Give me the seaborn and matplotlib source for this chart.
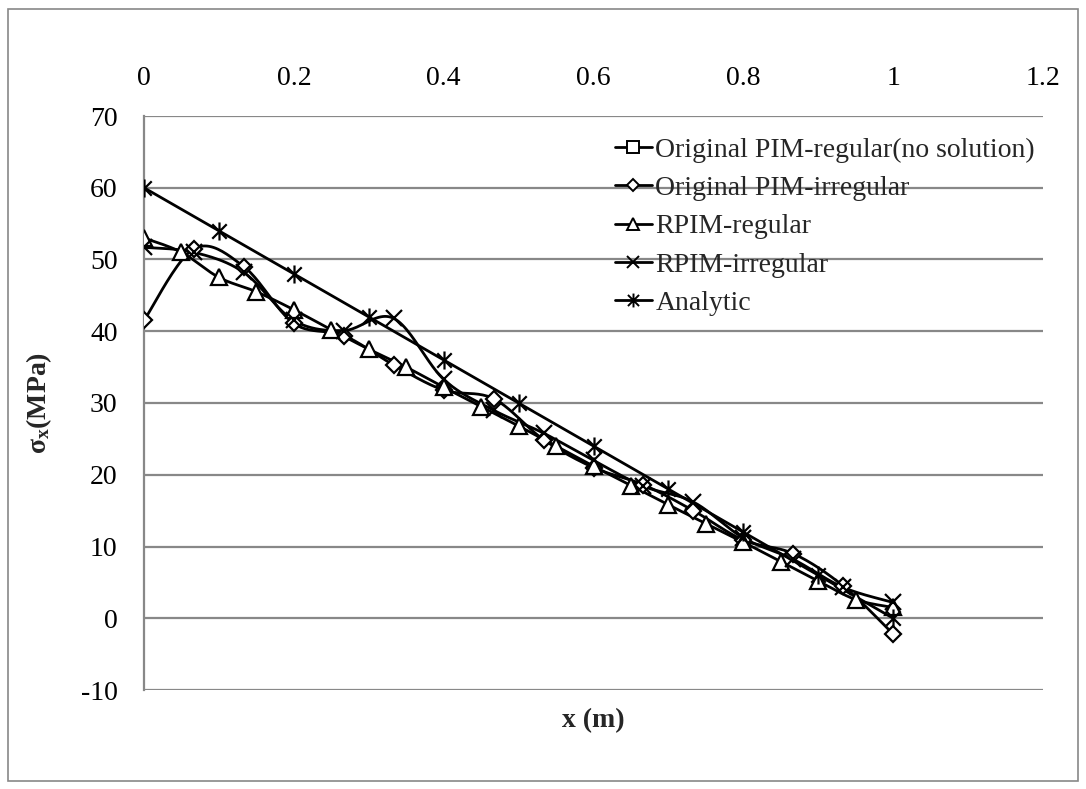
import numpy as np
import pandas as pd
import matplotlib
matplotlib.use("Agg")
import matplotlib.pyplot as plt
from matplotlib.patches import Rectangle
from matplotlib.lines import Line2D
from matplotlib.path import Path
import seaborn as sns

# ---------------- data ----------------
x_regular = [0.0, 0.05, 0.10, 0.15, 0.20, 0.25, 0.30, 0.35, 0.40, 0.45, 0.50,
             0.55, 0.60, 0.65, 0.70, 0.75, 0.80, 0.85, 0.90, 0.95, 1.00]
rpim_regular = [53.0, 51.0, 47.5, 45.5, 43.0, 40.2, 37.5, 35.0, 32.2, 29.5, 26.8,
                24.0, 21.2, 18.5, 15.8, 13.2, 10.6, 7.9, 5.2, 2.6, 1.5]

x_irregular = [0.0, 0.0667, 0.1333, 0.2, 0.2667, 0.3333, 0.4, 0.4667, 0.5333,
               0.6, 0.6667, 0.7333, 0.8, 0.8667, 0.9333, 1.0]
pim_irregular = [41.5, 51.5, 49.0, 41.1, 39.4, 35.3, 31.8, 30.6, 24.9,
                 21.0, 18.6, 15.0, 10.9, 9.0, 4.5, -2.2]
rpim_irregular = [51.7, 51.0, 48.2, 41.5, 40.1, 41.8, 33.3, 29.0, 25.8,
                  22.0, 18.4, 16.2, 11.2, 8.2, 4.3, 2.2]

x_analytic = [0.0, 0.1, 0.2, 0.3, 0.4, 0.5, 0.6, 0.7, 0.8, 0.9, 1.0]
analytic = [60, 54, 48, 42, 36, 30, 24, 18, 12, 6, 0]

labels = ["Original PIM-regular(no solution)", "Original PIM-irregular",
          "RPIM-regular", "RPIM-irregular", "Analytic"]
x_ticks = [0, 0.2, 0.4, 0.6, 0.8, 1, 1.2]
x_tick_labels = ["0", "0.2", "0.4", "0.6", "0.8", "1", "1.2"]
y_ticks = [-10, 0, 10, 20, 30, 40, 50, 60, 70]

# ---------------- style ----------------
sns.set_theme(style="white")
plt.rcParams["font.family"] = ["Liberation Serif", "DejaVu Serif"]
plt.rcParams["mathtext.fontset"] = "custom"
plt.rcParams["mathtext.rm"] = "Liberation Serif"
plt.rcParams["mathtext.bf"] = "Liberation Serif:bold"
plt.rcParams["mathtext.it"] = "Liberation Serif:italic"
plt.rcParams["axes.unicode_minus"] = False

FS = 20
GRID = "#888888"

fig = plt.figure(figsize=(10.86, 7.89), dpi=100)
ax = fig.add_axes([144 / 1086, 1 - 690 / 789, (1043 - 144) / 1086, (690 - 116) / 789])


def smooth(xs, ys, n=24):
    """Excel-like smoothed line (Bezier / Catmull-Rom) through the points."""
    pts = np.column_stack([xs, ys]).astype(float)
    P = np.vstack([pts[0], pts, pts[-1]])
    segs = []
    t = np.linspace(0, 1, n)[:, None]
    for i in range(1, len(P) - 2):
        p0, p1, p2, p3 = P[i - 1], P[i], P[i + 1], P[i + 2]
        c1 = p1 + (p2 - p0) / 6
        c2 = p2 - (p3 - p1) / 6
        seg = (1 - t) ** 3 * p1 + 3 * (1 - t) ** 2 * t * c1 + 3 * (1 - t) * t ** 2 * c2 + t ** 3 * p2
        segs.append(seg if i == 1 else seg[1:])
    c = np.vstack(segs)
    return c[:, 0], c[:, 1]


# Excel-style asterisk: an X with a vertical stroke
asterisk = Path([(-1, -1), (1, 1), (-1, 1), (1, -1), (0, -1.25), (0, 1.25)],
                [Path.MOVETO, Path.LINETO, Path.MOVETO, Path.LINETO,
                 Path.MOVETO, Path.LINETO])

LW = 2.0
series = [
    (labels[1], x_irregular, pim_irregular, "D", 8, "white"),
    (labels[2], x_regular, rpim_regular, "^", 11, "white"),
    (labels[3], x_irregular, rpim_irregular, "x", 11, "black"),
    (labels[4], x_analytic, analytic, asterisk, 13, "black"),
]

for name, xs, ys, mk, ms, fc in series:
    sx, sy = smooth(xs, ys)
    sns.lineplot(x=sx, y=sy, ax=ax, color="black", lw=LW, sort=False,
                 estimator=None, zorder=3)
    df = pd.DataFrame({"x": xs, "y": ys})
    ax.plot(df["x"], df["y"], linestyle="none", marker=mk, markersize=ms,
            markerfacecolor=fc, markeredgecolor="black", markeredgewidth=1.6,
            zorder=4)

# axes
ax.set_xlim(0, 1.2)
ax.set_ylim(-10, 70)
ax.set_xticks(x_ticks)
ax.set_xticklabels(x_tick_labels)
ax.set_yticks(y_ticks)
ax.xaxis.tick_top()
ax.xaxis.set_label_position("bottom")
ax.tick_params(axis="x", length=0, pad=18, labelsize=FS, colors="black")
ax.tick_params(axis="y", length=0, pad=19, labelsize=FS, colors="black")
ax.yaxis.grid(True, color=GRID, lw=1.6)
ax.set_axisbelow(True)
for s in ["top", "right", "bottom"]:
    ax.spines[s].set_visible(False)
ax.spines["left"].set_color(GRID)
ax.spines["left"].set_linewidth(1.6)

ax.set_xlabel("x (m)", fontsize=FS, fontweight="bold", labelpad=13)
ax.set_ylabel(r"$\mathbf{σ_{x}}$(MPa)", fontsize=FS, fontweight="bold", labelpad=19)

# legend
handles = [
    Line2D([], [], color="black", lw=LW, marker="s", markersize=9,
           markerfacecolor="white", markeredgecolor="black", markeredgewidth=1.4),
    Line2D([], [], color="black", lw=LW, marker="D", markersize=6,
           markerfacecolor="white", markeredgecolor="black", markeredgewidth=1.4),
    Line2D([], [], color="black", lw=LW, marker="^", markersize=8,
           markerfacecolor="white", markeredgecolor="black", markeredgewidth=1.4),
    Line2D([], [], color="black", lw=LW, marker="x", markersize=8,
           markeredgecolor="black", markeredgewidth=1.4),
    Line2D([], [], color="black", lw=LW, marker=asterisk, markersize=10,
           markeredgecolor="black", markeredgewidth=1.4),
]
leg = ax.legend(handles, labels, loc="upper left", bbox_to_anchor=(0.511, 0.982),
                frameon=False, fontsize=FS, handlelength=1.35, handletextpad=0.12,
                labelspacing=0.46, borderaxespad=0)

# outer chart border
fig.patches.append(Rectangle((8 / 1086, 8 / 789), 1070 / 1086, 772 / 789,
                             transform=fig.transFigure, fill=False,
                             edgecolor=GRID, lw=1.2))

fig.savefig("out.png", dpi=100)
